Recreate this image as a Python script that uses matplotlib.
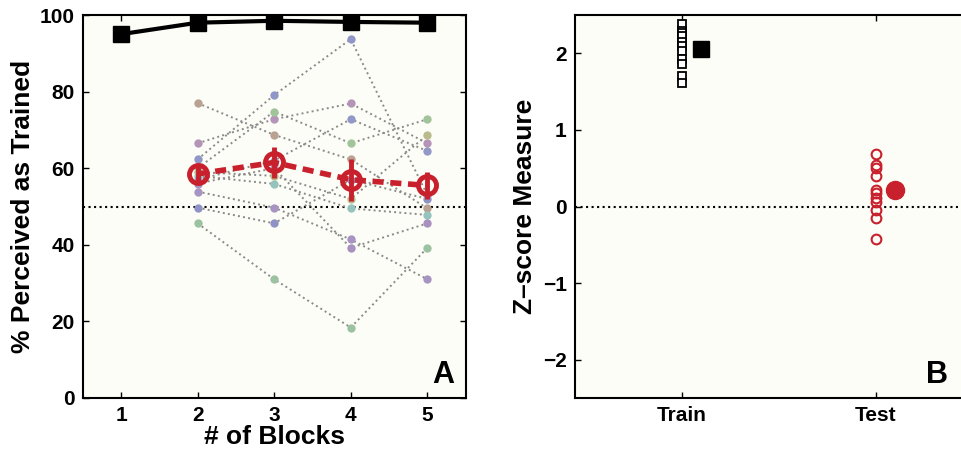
import matplotlib.pyplot as plt
import numpy as np

plt.rcParams['font.family'] = ['Liberation Sans', 'DejaVu Sans']
plt.rcParams['font.weight'] = 'bold'

# panel A data
blocks = [1, 2, 3, 4, 5]
trained_pct = [95.0, 98.0, 98.5, 98.2, 98.0]

test_blocks = [2, 3, 4, 5]
mean_pct = [58.5, 61.5, 57.0, 55.5]
mean_err = [2.5, 4.0, 5.5, 3.5]

subject_pct = [
    [45.6, 31.0, 18.4, 39.2],
    [53.9, 49.7, 41.4, 31.0],
    [49.7, 45.6, 57.0, 52.0],
    [77.0, 68.7, 62.3, 49.5],
    [66.5, 72.8, 76.9, 66.5],
    [62.3, 79.1, 93.7, 53.0],
    [60.0, 74.8, 66.5, 72.8],
    [58.0, 55.9, 49.5, 47.8],
    [57.0, 62.0, 72.8, 64.5],
    [56.0, 60.0, 39.2, 45.6],
    [59.0, 58.0, 52.0, 68.7],
]
subject_colors = ['#9cc2a2', '#a894c2', '#8e92c4', '#b9a292', '#b495b8', '#9096c6',
                  '#a2c49a', '#94c4bc', '#9299c8', '#a890bf', '#b8bc8c']

# panel B data
train_z = [2.38, 2.29, 2.26, 2.22, 2.15, 2.09, 2.03, 1.93, 1.86, 1.71, 1.61]
train_mean = 2.05
test_z = [0.68, 0.54, 0.50, 0.40, 0.22, 0.17, 0.11, 0.06, -0.04, -0.15, -0.43]
test_mean = 0.21
groups = ['Train', 'Test']

red = '#c8202c'
bg = '#fdfdf7'

fig = plt.figure(figsize=(9.62, 4.5), dpi=100)
axA = fig.add_axes([0.086, 0.1156, 0.398, 0.851])
axB = fig.add_axes([0.5977, 0.1156, 0.424, 0.851])

for ax in (axA, axB):
    ax.set_facecolor(bg)
    ax.tick_params(direction='in', top=True, right=True, length=4, width=1,
                   labelsize=15, pad=6)
    for s in ax.spines.values():
        s.set_linewidth(1.5)

# ---- panel A
axA.axhline(50, color='black', ls=':', lw=1.5, zorder=1)
for vals, c in zip(subject_pct, subject_colors):
    axA.plot(test_blocks, vals, ls=':', color='#8a8a8a', lw=1.4, zorder=2)
    axA.plot(test_blocks, vals, 'o', ms=6, color=c, mec='none', zorder=3)

axA.plot(blocks, trained_pct, '-s', color='black', lw=3, ms=11, zorder=5)
axA.errorbar(test_blocks, mean_pct, yerr=mean_err, color=red, lw=4, ls=(0, (2, 1.2)),
             marker='o', ms=13, mfc='none', mec=red, mew=3.5, elinewidth=3.5,
             capsize=0, zorder=6)

axA.set_xlim(0.5, 5.5)
axA.set_ylim(0, 100)
axA.set_xticks(blocks)
axA.set_yticks([0, 20, 40, 60, 80, 100])
axA.set_xticklabels([str(b) for b in blocks], fontweight='bold')
axA.set_yticklabels(['0', '20', '40', '60', '80', '100'], fontweight='bold')
axA.set_xlabel('# of Blocks', fontsize=19, fontweight='bold', labelpad=0)
axA.set_ylabel('% Perceived as Trained', fontsize=19, fontweight='bold', labelpad=3)
axA.text(0.97, 0.02, 'A', transform=axA.transAxes, ha='right', va='bottom',
         fontsize=22, fontweight='bold')

# ---- panel B
axB.axhline(0, color='black', ls=':', lw=1.5, zorder=1)
axB.plot([1] * len(train_z), train_z, 's', ms=6, mfc='white', mec='black', mew=1.3)
axB.plot([1.1], [train_mean], 's', ms=11, color='black')
axB.plot([2] * len(test_z), test_z, 'o', ms=7, mfc='none', mec=red, mew=1.5)
axB.plot([2.1], [test_mean], 'o', ms=13, color=red)

axB.set_xlim(0.45, 2.55)
axB.set_ylim(-2.5, 2.5)
axB.set_xticks([1, 2])
axB.set_xticklabels(groups, fontweight='bold')
axB.set_yticks([-2, -1, 0, 1, 2])
axB.set_yticklabels(['\u22122', '\u22121', '0', '1', '2'], fontweight='bold')
axB.set_ylabel('Z\u2013score Measure', fontsize=19, fontweight='bold', labelpad=4)
axB.text(0.915, 0.02, 'B', transform=axB.transAxes, ha='right', va='bottom',
         fontsize=22, fontweight='bold')

fig.savefig('out.png', dpi=100, facecolor='white')
